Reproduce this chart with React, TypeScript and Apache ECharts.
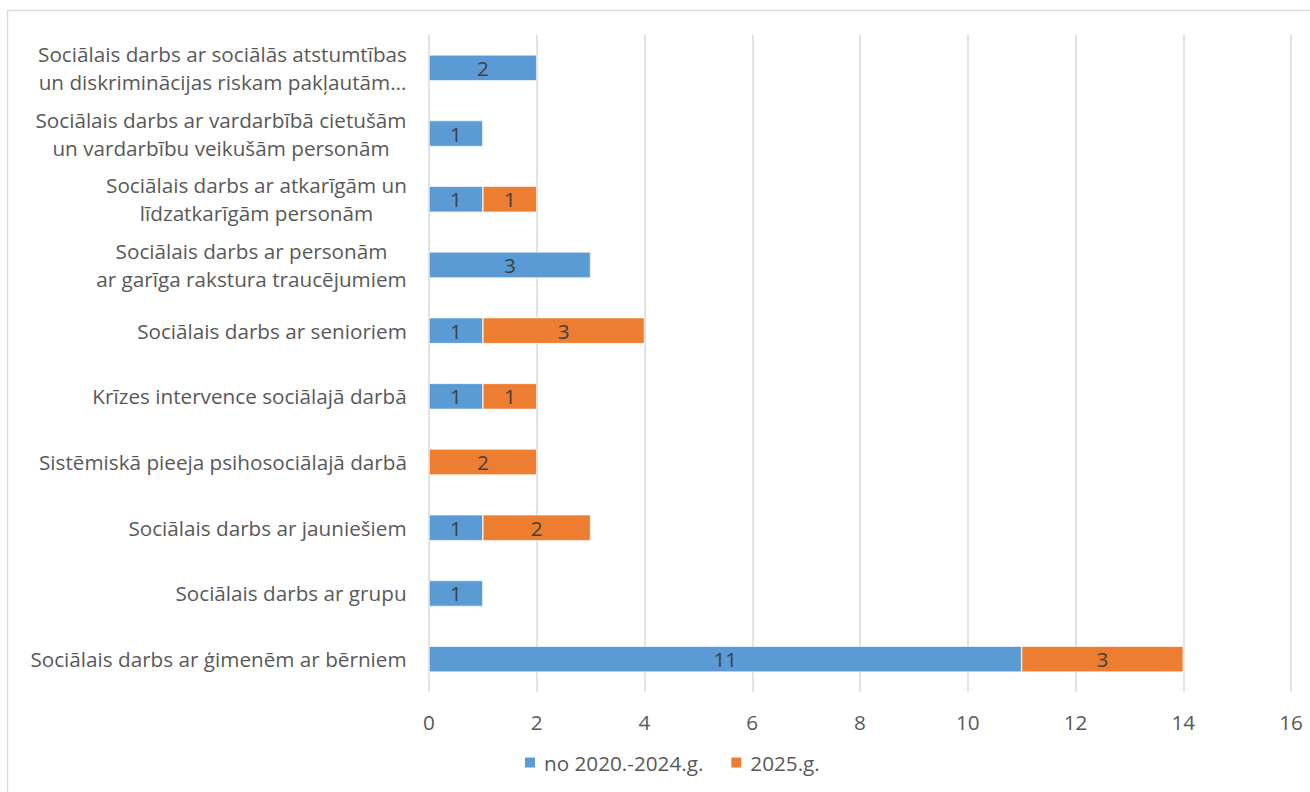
import React, { useEffect, useRef } from "react";
import * as echarts from "echarts";

const categories = [
  "Sociālais darbs ar ģimenēm ar bērniem",
  "Sociālais darbs ar grupu",
  "Sociālais darbs ar jauniešiem",
  "Sistēmiskā pieeja psihosociālajā darbā",
  "Krīzes intervence sociālajā darbā",
  "Sociālais darbs ar senioriem",
  "Sociālais darbs ar personām\nar garīga rakstura traucējumiem",
  "Sociālais darbs ar atkarīgām un\nlīdzatkarīgām personām",
  "Sociālais darbs ar vardarbībā cietušām\nun vardarbību veikušām personām",
  "Sociālais darbs ar sociālās atstumtības\nun diskriminācijas riskam pakļautām…",
];
const seriesNames = ["no 2020.-2024.g.", "2025.g."];
const valuesA = [11, 1, 1, null, 1, 1, 3, 1, 1, 2];
const valuesB = [3, null, 2, 2, 1, 3, null, 1, null, null];
const axisMin = 0;
const axisMax = 16;
const axisInterval = 2;

const FONT = "Open Sans";
const LABEL_SIZE = 20.7;

export default function App() {
  const ref = useRef<HTMLDivElement>(null);
  useEffect(() => {
    if (!ref.current) return;
    const chart = echarts.init(ref.current, null, { renderer: "svg" });
    const canvas = document.createElement("canvas");
    const ctx = canvas.getContext("2d")!;
    ctx.font = `${LABEL_SIZE}px "${FONT}"`;
    const rich: Record<string, any> = {};
    categories.forEach((c, i) => {
      const lines = c.split("\n");
      const w = Math.max(...lines.map((l) => ctx.measureText(l).width));
      rich["c" + i] = {
        width: Math.ceil(w),
        align: "center",
        fontFamily: FONT,
        fontSize: LABEL_SIZE,
        color: "#595959",
        lineHeight: 28,
      };
    });
    const barLabel = {
      show: true,
      position: "inside",
      color: "#404040",
      fontFamily: FONT,
      fontSize: LABEL_SIZE,
    };
    chart.setOption({
      animation: false,
      backgroundColor: "#ffffff",
      color: ["#5B9BD5", "#ED7D31"],
      textStyle: { fontFamily: FONT },
      graphic: [
        {
          type: "rect",
          shape: { x: 7.5, y: 10.5, width: 1400, height: 900 },
          style: { fill: "none", stroke: "#d9d9d9", lineWidth: 1.5 },
          silent: true,
        },
      ],
      grid: { left: 429, right: 19, top: 35, bottom: 100, containLabel: false },
      legend: {
        top: 747,
        left: 518,
        itemWidth: 12,
        itemHeight: 12,
        itemGap: 26,
        icon: "rect",
        textStyle: {
          fontFamily: FONT,
          fontSize: LABEL_SIZE,
          color: "#595959",
          padding: [0, 0, 0, 3],
        },
        data: seriesNames,
      },
      xAxis: {
        type: "value",
        min: axisMin,
        max: axisMax,
        interval: axisInterval,
        axisLine: { show: false },
        axisTick: { show: false },
        splitLine: { lineStyle: { color: "#d9d9d9", width: 1.5 } },
        axisLabel: { fontFamily: FONT, fontSize: LABEL_SIZE, color: "#595959", margin: 19 },
      },
      yAxis: {
        type: "category",
        data: categories,
        axisLine: { show: false },
        axisTick: { show: false },
        splitLine: { show: false },
        axisLabel: {
          margin: 22,
          interval: 0,
          formatter: (v: string) => {
            const i = categories.indexOf(v);
            return v
              .split("\n")
              .map((l) => `{c${i}|${l}}`)
              .join("\n");
          },
          rich,
        },
      },
      series: [
        {
          name: seriesNames[0],
          type: "bar",
          stack: "s",
          data: valuesA,
          barWidth: 26,
          itemStyle: { borderColor: "#ffffff", borderWidth: 0.6 },
          label: barLabel,
        },
        {
          name: seriesNames[1],
          type: "bar",
          stack: "s",
          data: valuesB,
          barWidth: 26,
          itemStyle: { borderColor: "#ffffff", borderWidth: 0.6 },
          label: barLabel,
        },
      ],
    });
    return () => chart.dispose();
  }, []);
  return (
    <div
      ref={ref}
      style={{ position: "fixed", left: 0, top: 0, width: 1310, height: 792, background: "#fff" }}
    />
  );
}
